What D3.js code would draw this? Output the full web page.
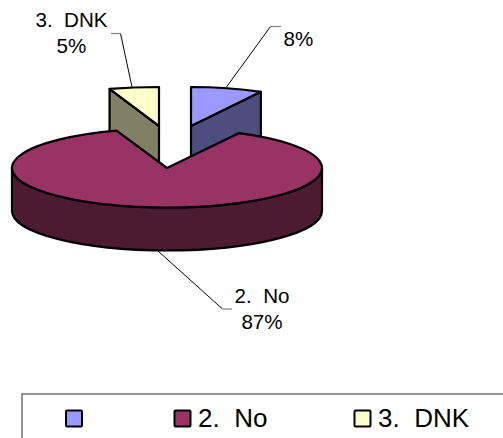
<!DOCTYPE html>
<html>
<head>
<meta charset="utf-8">
<script src="https://cdn.jsdelivr.net/npm/d3@7"></script>
<style>
  html, body { margin: 0; padding: 0; background: #fff; }
  svg { display: block; }
  text { font-family: "Liberation Sans", Arial, sans-serif; fill: #000; white-space: pre; }
</style>
</head>
<body>
<svg id="chart" width="503" height="438"></svg>
<script>
// Survey answers, in pie order
const categories = ["", "2.  No", "3.  DNK"];
const values = [8, 87, 5];
const topColors = ["#9999ff", "#993366", "#ffffcc"];
const wallColors = ["#4d4d80", "#4d1a33", "#808066"];

const width = 503, height = 438;
const svg = d3.select("#chart");

// Projected pie geometry: flattened ellipse plus an extruded rim
const depth = 43;
const cx = 167, cy = 168, rx = 155, ry = 39.5;
const deg = Math.PI / 180;

const arcs = d3.pie().sort(null).value(d => d)(values);

// Per-slice placement: the two small slices are pulled up and out of the pie
const placement = [
  { x: 191, y: 126, rx: 145, ry: 39, tilt: 0 },
  { x: cx, y: cy, rx: rx, ry: ry, tilt: -1 * deg },
  { x: 159, y: 126, rx: 160, ry: 39, tilt: 0 }
];

const rimPoint = (p, a) => [p.x + p.rx * Math.sin(a + p.tilt), p.y - p.ry * Math.cos(a + p.tilt)];

function sectorPath(p, a0, a1) {
  const s = rimPoint(p, a0), e = rimPoint(p, a1);
  const large = a1 - a0 > Math.PI ? 1 : 0;
  return `M${p.x},${p.y}L${s[0]},${s[1]}A${p.rx},${p.ry} 0 ${large} 1 ${e[0]},${e[1]}Z`;
}

const outline = { stroke: "#000", "stroke-width": 2.2, "stroke-linejoin": "round" };
const applyOutline = sel => { for (const k in outline) sel.attr(k, outline[k]); return sel; };

// Exploded slices go first so the large slice overlaps their lower edges
[0, 2].forEach(i => {
  const p = placement[i], d = arcs[i];
  // Cut face seen from the front runs from the apex to the outer rim corner
  const corner = i === 0 ? rimPoint(p, d.endAngle) : rimPoint(p, d.startAngle);
  const face = d3.line()([
    [p.x, p.y], corner, [corner[0], corner[1] + depth + 1], [p.x, p.y + depth + 1]
  ]) + "Z";
  applyOutline(svg.append("path").attr("d", face).attr("fill", wallColors[i]));
  applyOutline(svg.append("path")
    .attr("d", sectorPath(p, d.startAngle, d.endAngle))
    .attr("fill", topColors[i]));
});

// Large slice: visible outer wall along the front half, then the top surface
{
  const p = placement[1], d = arcs[1];
  const wall = `M${cx + rx},${cy}A${rx},${ry} 0 0 1 ${cx - rx},${cy}` +
    `L${cx - rx},${cy + depth}A${rx},${ry} 0 0 0 ${cx + rx},${cy + depth}Z`;
  applyOutline(svg.append("path").attr("d", wall).attr("fill", wallColors[1]));
  applyOutline(svg.append("path")
    .attr("d", sectorPath(p, d.startAngle, d.endAngle))
    .attr("fill", topColors[1]));
}

// Leader lines: sloped run in black, short landing in grey
const leaders = [
  { pts: [[226.5, 87], [270.5, 26.5]], land: [[270.5, 26.5], [281, 26.5]] },
  { pts: [[158, 251], [222.5, 309]], land: [[222.5, 309], [232, 309]] },
  { pts: [[132, 87], [120.5, 33.5]], land: [[120.5, 33.5], [111, 33.5]] }
];
leaders.forEach(l => {
  svg.append("path").attr("d", d3.line()(l.pts)).attr("fill", "none").attr("stroke", "#000").attr("stroke-width", 1);
  svg.append("path").attr("d", d3.line()(l.land)).attr("fill", "none").attr("stroke", "#808080").attr("stroke-width", 1.2);
});

// Data labels
const pct = v => v + "%";
const dataLabels = [
  { x: 298.5, lines: [[46, pct(values[0])]] },
  { x: 262, lines: [[303, categories[1]], [329, pct(values[1])]] },
  { x: 71.5, lines: [[27, categories[2]], [53, pct(values[2])]] }
];
dataLabels.forEach(l => l.lines.forEach(([y, t]) => {
  svg.append("text").attr("x", l.x).attr("y", y).attr("text-anchor", "middle")
    .attr("font-size", 20.6).text(t);
}));

// Legend frame runs off the right and bottom of the canvas
svg.append("rect")
  .attr("x", 22).attr("y", 394).attr("width", width).attr("height", 80)
  .attr("fill", "#fff").attr("stroke", "#707070").attr("stroke-width", 1.5);

const legendX = d3.scaleOrdinal().domain(categories).range([66, 174.5, 354.5]);
categories.forEach((c, i) => {
  const x = legendX(c);
  svg.append("rect").attr("x", x).attr("y", 410.5).attr("width", 16).attr("height", 16)
    .attr("rx", 1).attr("fill", topColors[i]).attr("stroke", "#000").attr("stroke-width", 2);
  svg.append("text").attr("x", i === 0 ? x + 24 : x + 23.5).attr("y", 427).attr("font-size", 26).text(c);
});
</script>
</body>
</html>
